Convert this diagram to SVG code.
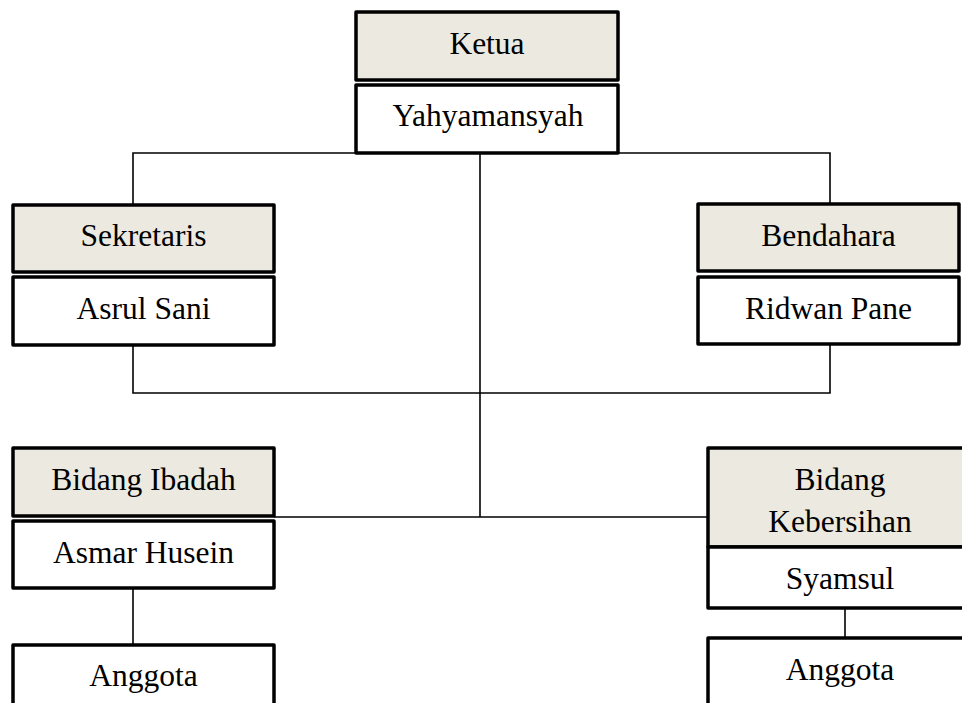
<svg xmlns="http://www.w3.org/2000/svg" width="962" height="703" viewBox="0 0 962 703">
<style>
.box{stroke:#000;stroke-width:3.5;stroke-linejoin:round}
.title{fill:#ECE9E0}
.name{fill:#fff}
.lbl{font-family:"Liberation Serif","Times New Roman",serif;font-size:31.5px;fill:#000;text-anchor:middle}
.ln{stroke:#000;stroke-width:1.6;fill:none}
</style>
<rect width="962" height="703" fill="#fff"/>
<g id="connectors">
<polyline class="ln" points="133,205 133,153 830,153 830,204"/>
<line class="ln" x1="480" y1="153" x2="480" y2="517"/>
<polyline class="ln" points="133,345 133,393 830,393 830,344"/>
<line class="ln" x1="274" y1="517" x2="708" y2="517"/>
<line class="ln" x1="133" y1="588" x2="133" y2="645"/>
<line class="ln" x1="845" y1="608" x2="845" y2="638"/>
</g>
<g id="ketua">
<rect class="box title" x="356" y="12" width="262" height="68"/>
<text class="lbl" x="487" y="54">Ketua</text>
<rect class="box name" x="356" y="85" width="262" height="68"/>
<text class="lbl" x="488" y="126">Yahyamansyah</text>
</g>
<g id="sekretaris">
<rect class="box title" x="13" y="205" width="261" height="67"/>
<text class="lbl" x="143.5" y="246">Sekretaris</text>
<rect class="box name" x="13" y="277" width="261" height="68"/>
<text class="lbl" x="143.5" y="319">Asrul Sani</text>
</g>
<g id="bendahara">
<rect class="box title" x="698" y="204" width="261" height="67"/>
<text class="lbl" x="828.5" y="246">Bendahara</text>
<rect class="box name" x="698" y="277" width="261" height="67"/>
<text class="lbl" x="828.5" y="319">Ridwan Pane</text>
</g>
<g id="bidang-ibadah">
<rect class="box title" x="13" y="448" width="261" height="68"/>
<text class="lbl" x="143.5" y="490">Bidang Ibadah</text>
<rect class="box name" x="13" y="521" width="261" height="67"/>
<text class="lbl" x="143.5" y="563">Asmar Husein</text>
</g>
<g id="anggota-ibadah">
<rect class="box name" x="13" y="645" width="261" height="70"/>
<text class="lbl" x="143.5" y="686">Anggota</text>
</g>
<g id="bidang-kebersihan">
<rect class="box title" x="708" y="448" width="264" height="99"/>
<text class="lbl" x="840" y="490">Bidang</text>
<text class="lbl" x="840" y="532">Kebersihan</text>
<rect class="box name" x="708" y="547" width="264" height="61"/>
<text class="lbl" x="840" y="589">Syamsul</text>
</g>
<g id="anggota-kebersihan">
<rect class="box name" x="708" y="638" width="264" height="80"/>
<text class="lbl" x="840" y="680">Anggota</text>
</g>
</svg>
